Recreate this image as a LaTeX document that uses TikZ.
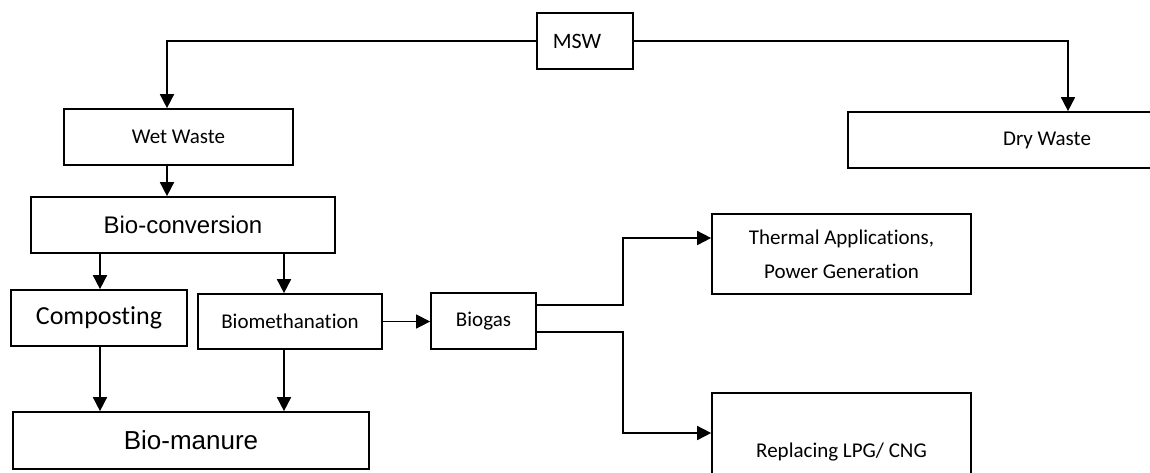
\documentclass[tikz,border=0pt]{standalone}
\usepackage{fontspec}
\setmainfont{Carlito}[Ligatures={NoCommon,NoContextual}]
\newfontfamily\arialf{Liberation Sans}
\usetikzlibrary{arrows.meta}
\tikzset{
  box/.style={draw, line width=1.7pt, inner sep=0pt, align=center, font=\fontsize{21}{34}\selectfont},
  arr/.style={line width=1.7pt, -{Triangle[width=14pt,length=14pt]}},
  thinarr/.style={line width=1pt, -{Triangle[width=14pt,length=14pt]}},
  ln/.style={line width=1.7pt}
}
\begin{document}
\begin{tikzpicture}[x=1pt,y=-1pt]
\clip (0,0) rectangle (1150,472);
\fill[white] (0,0) rectangle (1150,472);
% coordinates for connector positions
\coordinate (xa) at (167,0);
\coordinate (xb) at (100,0);
\coordinate (xc) at (284,0);
\coordinate (xd) at (623,0);
\coordinate (xe) at (1068,0);
\coordinate (yt) at (0,305);
\coordinate (yb) at (0,332);
\coordinate (yth) at (0,238);
\coordinate (yrp) at (0,433);
% nodes
\node[box, minimum width=96pt, minimum height=56pt, font=\fontsize{22}{26}\selectfont] (msw) at (585,41) {MSW\hspace{16pt}};
\node[box, minimum width=229pt, minimum height=56pt] (wet) at (178.5,137) {Wet Waste};
\node[box, minimum width=304pt, minimum height=56pt, font=\arialf\fontsize{24}{28}\selectfont] (bio) at (183,225) {Bio-conversion};
\node[box, minimum width=176pt, minimum height=56pt, font=\fontsize{26}{30}\selectfont] (comp) at (99,318) {Composting};
\node[box, minimum width=184pt, minimum height=55pt] (meth) at (290,321.5) {Biomethanation};
\node[box, minimum width=356pt, minimum height=57pt, font=\arialf\fontsize{26}{30}\selectfont] (man) at (191,440.5) {Bio-manure};
\node[box, minimum width=105pt, minimum height=56pt] (biogas) at (483.5,321) {Biogas};
\node[box, minimum width=259pt, minimum height=80pt] (therm) at (841.5,254) {Thermal Applications,\\Power Generation};
\node[box, minimum width=259pt, minimum height=118pt] (repl) at (841.5,452) {Replacing LPG/ CNG};
\node[box, minimum width=398pt, minimum height=56pt] (dry) at (1047,140) {Dry Waste};
% connectors
\draw[arr] (msw.west) -| (wet.north -| xa);
\draw[arr] (msw.east) -| (dry.north -| xe);
\draw[arr] (wet.south -| xa) -- (bio.north -| xa);
\draw[arr] (bio.south -| xb) -- (comp.north -| xb);
\draw[arr] (bio.south -| xc) -- (meth.north -| xc);
\draw[arr] (comp.south -| xb) -- (man.north -| xb);
\draw[arr] (meth.south -| xc) -- (man.north -| xc);
\draw[thinarr] (meth.east) -- (biogas.west |- meth.east);
\draw[arr] (biogas.east |- yt) -| (xd |- yth) -- (therm.west |- yth);
\draw[arr] (biogas.east |- yb) -| (xd |- yrp) -- (repl.west |- yrp);
\end{tikzpicture}
\end{document}
